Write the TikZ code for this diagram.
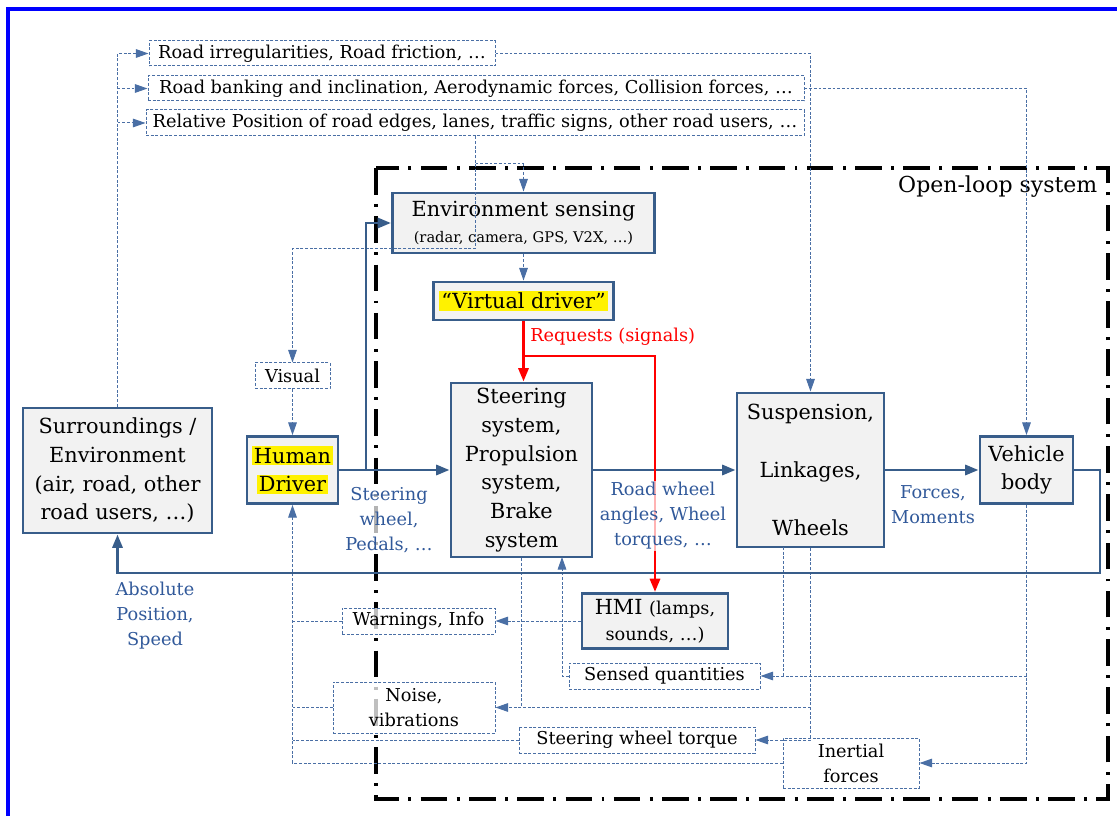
\documentclass[tikz,border=0pt]{standalone}
\usepackage{fontspec}
\setmainfont{DejaVu Serif}
\usetikzlibrary{arrows.meta}
\definecolor{bcol}{HTML}{385D8A}
\definecolor{gfill}{HTML}{F2F2F2}
\definecolor{dcol}{HTML}{4A6FA5}
\definecolor{lcol}{HTML}{31599A}
\newcommand\bigf{\fontsize{15.6}{21.6}\selectfont}
\newcommand\smf{\fontsize{13.3}{18.8}\selectfont}
\newcommand\tinyf{\fontsize{11}{13}\selectfont}
\newcommand\opf{\fontsize{16.5}{20}\selectfont}
\newcommand\hlt[1]{{\setlength{\fboxsep}{1.5pt}\colorbox{yellow}{#1}}}
\begin{document}
\begin{tikzpicture}[x=0.75pt,y=-0.75pt,
  mbox/.style={draw=bcol, line width=2.2pt, fill=gfill, align=center, inner sep=0pt, font=\bigf},
  dbox/.style={draw=dcol, line width=0.75pt, dash pattern=on 2.2pt off 1.3pt, fill=white, fill opacity=0.75, text opacity=1, align=center, inner sep=0pt, font=\smf},
  mline/.style={draw=bcol, line width=2.2pt, >={Triangle[length=10pt,width=7.5pt]}},
  dline/.style={draw=dcol, line width=0.75pt, dash pattern=on 2.2pt off 1.3pt, >={Triangle[length=9.5pt,width=6.5pt]}},
  rline/.style={draw=red, line width=2.2pt, >={Triangle[length=10pt,width=7.5pt]}},
  lab/.style={text=lcol, font=\smf, align=center, fill=white, fill opacity=0.7, text opacity=1, inner sep=1pt},
  olframe/.style={line width=2.5pt, dash pattern=on 20pt off 7pt on 2.2pt off 7pt}
]
\useasboundingbox (0,0) rectangle (1117,816);
% outer blue frame (cropped)
\draw[draw=blue, line width=2.6pt] (8,816) -- (8,9) -- (1117,9);
% open-loop system frame
\draw[olframe] (376,168) rectangle (1108,799);
\node[font=\opf, anchor=base east] (ol) at (1102,193) {Open-loop system};

% top dashed boxes
\node[dbox, minimum width=259.5pt, minimum height=18.75pt] (r1) at (322,53.5) {Road irregularities, Road friction, …};
\node[dbox, minimum width=492pt, minimum height=18.75pt] (r2) at (476,88.5) {Road banking and inclination, Aerodynamic forces, Collision forces, …};
\node[dbox, minimum width=493.5pt, minimum height=19.5pt] (r3) at (475,123) {Relative Position of road edges, lanes, traffic signs, other road users, …};

% main boxes
\node[mbox, minimum width=196.5pt, minimum height=45pt] (env) at (523.5,223) {Environment sensing\\[-2pt]{\tinyf (radar, camera, GPS, V2X, …)}};
\node[mbox, minimum width=135pt, minimum height=28.5pt] (vd) at (523.5,301) {\hlt{“Virtual driver”}};
\node[mbox, minimum width=105.75pt, minimum height=130.5pt] (steer) at (521.5,470) {Steering\\system,\\Propulsion\\system,\\Brake\\system};
\node[mbox, minimum width=110.25pt, minimum height=115.5pt] (susp) at (810.5,470) {Suspension,\\[21.6pt]Linkages,\\[21.6pt]Wheels};
\node[mbox, minimum width=69.75pt, minimum height=50.25pt] (vb) at (1026.5,470) {Vehicle\\body};
\node[mbox, minimum width=68.25pt, minimum height=50.25pt] (hd) at (292.5,470) {\hlt{Human}\\\hlt{Driver}};
\node[mbox, minimum width=141.75pt, minimum height=93.75pt] (sur) at (117.5,470.5) {Surroundings /\\Environment\\(air, road, other\\road users, …)};
\node[mbox, minimum width=109.5pt, minimum height=41.25pt] (hmi) at (655,621) {HMI {\smf (lamps,}\\[-2pt]{\smf sounds, …)}};

% dashed boxes
\node[dbox, minimum width=56.25pt, minimum height=19.5pt] (visual) at (292.5,376) {Visual};
\node[dbox, minimum width=114.75pt, minimum height=19.5pt] (warn) at (418.5,621) {Warnings, Info};
\node[dbox, minimum width=121.5pt, minimum height=38.25pt] (noise) at (414,707.5) {Noise,\\vibrations};
\node[dbox, minimum width=143.25pt, minimum height=19.5pt] (sensed) at (664.5,676) {Sensed quantities};
\node[dbox, minimum width=177pt, minimum height=19.5pt] (swt) at (637,740) {Steering wheel torque};
\node[dbox, minimum width=102pt, minimum height=37.5pt] (inertial) at (851,763) {Inertial\\forces};

% dashed connectors
\draw[dline,->] (sur.north) |- (r1.west);
\draw[dline,->] (sur.north |- r2.west) -- (r2.west);
\draw[dline,->] (sur.north |- r3.west) -- (r3.west);
\draw[dline,->] (r1.east) -| (susp.north);
\draw[dline,->] (r2.east) -| (vb.north);
\coordinate (j1) at (475,164);
\coordinate (j2) at (475,249);
\draw[dline,->] (r3.south) -- (j1) -| (env.north);
\draw[dline,->] (j1) -- (j2) -| (visual.north);
\draw[dline,->] (visual.south) -- (hd.north);
\draw[dline,->] (env.south) -- (vd.north);

\draw[dline,->] (inertial.west) -| (hd.south);
\draw[dline] (warn.west) -- (warn.west -| hd.south);
\draw[dline] (noise.west) -- (noise.west -| hd.south);
\draw[dline] (swt.west) -- (swt.west -| hd.south);
\draw[dline,->] (hmi.west) -- (warn.east);
\draw[dline,->] (steer.south) |- (noise.east);
\draw[dline] (susp.south |- noise.east) -- (steer.south |- noise.east);
\draw[dline,->] (susp.south) |- (swt.east);
\coordinate (s783) at (783,547);
\draw[dline] (s783) -- (s783 |- sensed.east);
\draw[dline,->] (vb.south) |- (inertial.east);
\draw[dline,->] (vb.south |- sensed.east) -- (sensed.east);
\coordinate (s562) at (562,557);
\draw[dline,->] (sensed.west) -| (s562);

% main solid connectors
\draw[mline,->] (hd.east) -- (steer.west);
\coordinate (b1) at (366,470);
\draw[mline,->] (b1) |- (env.west);
\draw[mline,->] (steer.east) -- (susp.west);
\draw[mline,->] (susp.east) -- (vb.west);
\coordinate (c1) at (1100,573);
\draw[mline,->] (vb.east) -| (c1) -| (sur.south);

% red requests
\draw[rline,->] (vd.south) -- (vd.south |- steer.north);
\coordinate (rj) at (523.5,356);
\draw[rline,->] (rj) -| (hmi.north);

% labels
\node[lab] (l1) at (389,520) {Steering\\wheel,\\Pedals, …};
\node[lab] (l2) at (663,516) {Road wheel\\angles, Wheel\\torques, …};
\node[lab] (l3) at (933,505) {Forces,\\Moments};
\node[lab] (l4) at (155,616) {Absolute\\Position,\\Speed};
\node[text=red, font=\smf, anchor=west, inner sep=0pt] (l5) at (530,337) {Requests (signals)};
\end{tikzpicture}
\end{document}
